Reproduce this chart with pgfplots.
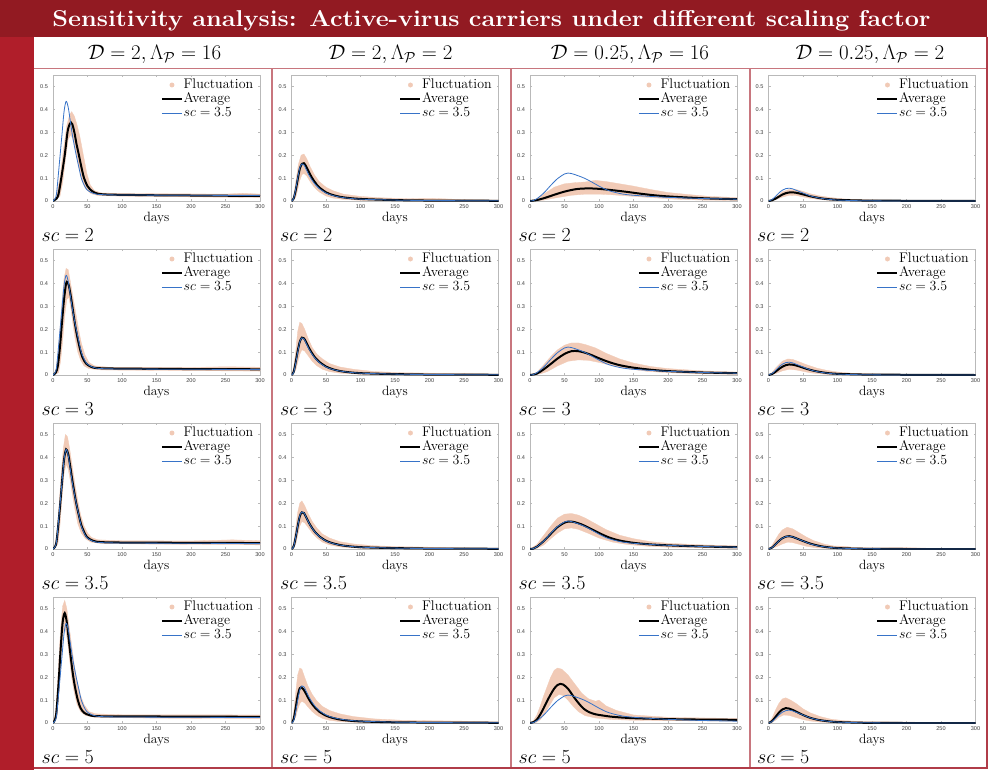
\RequirePackage{fix-cm}
\documentclass[border=0pt]{standalone}
\usepackage{fontspec}
\usepackage{pgfplots}
\pgfplotsset{compat=1.18}
\usepackage{pgfplotstable}
\newfontfamily\tickfont{Liberation Sans}
\definecolor{banner}{RGB}{146,26,34}
\definecolor{leftbar}{RGB}{176,30,42}
\definecolor{sep}{RGB}{200,118,126}
\definecolor{outer}{RGB}{176,60,72}
\definecolor{peach}{RGB}{241,202,182}
\definecolor{mblue}{RGB}{55,115,200}
\definecolor{axgray}{RGB}{185,185,185}
\newcommand{\T}[2]{\pgfplotstableread[row sep=\\]{x y\\#2}#1}
% ---------- column 1: D=2, Lambda=16 ----------
\T\blA{0 0\\3 0.01\\5 0.03\\7 0.09\\10 0.19\\13 0.29\\16 0.39\\19 0.435\\22 0.41\\25 0.35\\28 0.29\\31 0.24\\34 0.195\\38 0.14\\41 0.1\\45 0.07\\49 0.05\\55 0.038\\63 0.03\\80 0.027\\120 0.026\\200 0.025\\300 0.024\\}
\T\avAa{0 0\\5 0.01\\8 0.03\\12 0.1\\17 0.2\\21 0.3\\24 0.335\\26 0.343\\28 0.335\\31 0.3\\34 0.25\\37.6 0.2\\41 0.15\\45 0.1\\50 0.065\\54 0.05\\60 0.037\\66 0.031\\80 0.028\\100 0.027\\150 0.025\\200 0.024\\250 0.023\\300 0.022\\}
\T\bdAa{0 0\\5 0.02\\10 0.1\\15 0.22\\20 0.33\\24 0.375\\27 0.39\\31 0.37\\35 0.33\\39 0.28\\44 0.2\\49 0.12\\54 0.07\\60 0.045\\70 0.035\\100 0.033\\150 0.032\\200 0.031\\250 0.03\\275 0.034\\300 0.03\\300 0.015\\200 0.018\\100 0.021\\65 0.024\\55 0.032\\47 0.055\\42 0.09\\38 0.14\\34 0.2\\30 0.26\\26 0.29\\22 0.27\\18 0.18\\14 0.08\\10 0.02\\0 0\\}
\T\avAb{0 0\\4 0.01\\7 0.04\\10 0.12\\13 0.23\\16 0.33\\19 0.4\\21 0.405\\23 0.39\\26 0.34\\29 0.28\\32 0.22\\35 0.17\\39 0.115\\43 0.075\\48 0.05\\55 0.036\\65 0.03\\100 0.028\\200 0.026\\300 0.025\\}
\T\bdAb{0 0\\4 0.02\\7 0.08\\10 0.2\\13 0.32\\16 0.42\\19 0.465\\22 0.46\\25 0.41\\29 0.34\\33 0.27\\37 0.2\\41 0.14\\46 0.09\\52 0.055\\60 0.04\\80 0.034\\150 0.034\\200 0.033\\250 0.036\\300 0.034\\300 0.017\\150 0.02\\70 0.022\\52 0.028\\45 0.04\\40 0.065\\36 0.1\\32 0.16\\29 0.22\\26 0.29\\23 0.34\\20 0.33\\17 0.26\\14 0.15\\11 0.06\\8 0.01\\0 0\\}
\T\avAc{0 0\\3 0.01\\5 0.03\\7 0.085\\10 0.18\\13 0.29\\16 0.39\\19 0.435\\22 0.415\\25 0.36\\28 0.3\\31 0.245\\34 0.195\\38 0.14\\41 0.105\\45 0.075\\49 0.053\\55 0.04\\63 0.032\\80 0.029\\120 0.028\\200 0.027\\300 0.026\\}
\T\bdAc{0 0\\3 0.02\\6 0.08\\9 0.2\\12 0.33\\15 0.44\\18 0.5\\21 0.49\\24 0.44\\28 0.36\\32 0.28\\36 0.21\\40 0.15\\45 0.1\\50 0.07\\56 0.05\\65 0.04\\100 0.036\\200 0.035\\260 0.04\\300 0.036\\300 0.018\\150 0.021\\70 0.024\\55 0.03\\47 0.045\\41 0.07\\36 0.11\\32 0.17\\28 0.24\\25 0.3\\22 0.35\\19 0.37\\16 0.33\\13 0.22\\10 0.1\\7 0.02\\0 0\\}
\T\avAd{0 0\\3 0.015\\5 0.05\\8 0.17\\11 0.32\\14 0.44\\17 0.48\\20 0.44\\23 0.36\\26 0.28\\29 0.21\\32 0.155\\36 0.1\\40 0.065\\45 0.045\\52 0.035\\62 0.03\\100 0.029\\200 0.028\\300 0.027\\}
\T\bdAd{0 0\\3 0.03\\5 0.09\\8 0.25\\11 0.41\\14 0.51\\17 0.535\\20 0.5\\23 0.43\\27 0.34\\31 0.25\\35 0.18\\40 0.12\\45 0.08\\52 0.05\\62 0.04\\100 0.036\\200 0.036\\300 0.035\\300 0.019\\150 0.021\\60 0.025\\47 0.033\\40 0.05\\35 0.08\\31 0.13\\27 0.2\\24 0.28\\21 0.36\\18 0.41\\15 0.4\\12 0.29\\9 0.14\\6 0.03\\0 0\\}
% ---------- column 2: D=2, Lambda=2 ----------
\T\blB{0 0\\3 0.01\\6 0.05\\9 0.1\\12 0.145\\15 0.162\\18 0.158\\21 0.14\\25 0.115\\30 0.09\\35 0.07\\40 0.055\\50 0.035\\60 0.024\\75 0.015\\100 0.008\\150 0.004\\200 0.002\\300 0.001\\}
\T\avBa{0 0\\3 0.01\\6 0.045\\9 0.095\\12 0.14\\15 0.162\\18 0.165\\21 0.152\\25 0.128\\30 0.1\\35 0.078\\40 0.06\\50 0.038\\60 0.026\\75 0.016\\100 0.009\\150 0.004\\200 0.002\\300 0.001\\}
\T\bdBa{0 0\\3 0.02\\6 0.08\\10 0.16\\14 0.2\\18 0.205\\22 0.185\\27 0.15\\33 0.115\\40 0.085\\50 0.06\\60 0.045\\75 0.03\\100 0.02\\130 0.014\\170 0.01\\200 0.012\\250 0.006\\300 0.004\\300 0\\150 0.001\\100 0.003\\75 0.007\\60 0.013\\50 0.022\\40 0.04\\33 0.06\\27 0.085\\22 0.11\\18 0.12\\15 0.115\\12 0.09\\9 0.05\\6 0.015\\0 0\\}
\T\avBb{0 0\\3 0.012\\6 0.055\\9 0.105\\12 0.145\\15 0.163\\18 0.16\\21 0.145\\25 0.12\\30 0.094\\35 0.073\\40 0.058\\50 0.037\\60 0.025\\75 0.015\\100 0.008\\150 0.004\\200 0.002\\300 0.001\\}
\T\bdBb{0 0\\3 0.03\\6 0.1\\9 0.19\\12 0.23\\15 0.225\\19 0.2\\24 0.16\\30 0.12\\37 0.09\\45 0.07\\55 0.05\\70 0.035\\90 0.025\\120 0.015\\160 0.01\\200 0.008\\300 0.004\\300 0\\150 0.001\\100 0.003\\70 0.008\\55 0.015\\45 0.025\\37 0.04\\30 0.06\\24 0.085\\19 0.105\\15 0.11\\12 0.09\\9 0.055\\6 0.02\\0 0\\}
\T\avBc{0 0\\3 0.01\\6 0.05\\9 0.1\\12 0.143\\15 0.16\\18 0.157\\21 0.14\\25 0.116\\30 0.091\\35 0.071\\40 0.056\\50 0.036\\60 0.025\\75 0.015\\100 0.008\\150 0.004\\200 0.002\\300 0.001\\}
\T\bdBc{0 0\\3 0.025\\6 0.09\\9 0.16\\12 0.2\\15 0.21\\19 0.19\\24 0.155\\30 0.12\\37 0.09\\45 0.065\\55 0.048\\70 0.032\\90 0.022\\120 0.014\\160 0.01\\200 0.008\\250 0.005\\300 0.004\\300 0\\150 0.001\\100 0.003\\70 0.009\\55 0.018\\45 0.03\\37 0.048\\30 0.07\\24 0.095\\19 0.115\\15 0.12\\12 0.1\\9 0.06\\6 0.02\\0 0\\}
\T\avBd{0 0\\3 0.015\\6 0.065\\9 0.12\\12 0.152\\14 0.156\\17 0.148\\21 0.128\\25 0.105\\30 0.082\\35 0.064\\40 0.05\\50 0.032\\60 0.022\\75 0.013\\100 0.007\\150 0.003\\200 0.002\\300 0.001\\}
\T\bdBd{0 0\\3 0.04\\6 0.13\\9 0.21\\12 0.24\\15 0.235\\19 0.2\\24 0.16\\30 0.125\\37 0.095\\45 0.072\\55 0.055\\70 0.04\\90 0.028\\120 0.018\\160 0.012\\200 0.01\\250 0.008\\300 0.005\\300 0\\150 0.001\\100 0.002\\70 0.006\\55 0.012\\45 0.02\\37 0.033\\30 0.05\\24 0.07\\19 0.088\\15 0.095\\12 0.085\\9 0.06\\6 0.025\\0 0\\}
% ---------- column 3: D=0.25, Lambda=16 ----------
\T\blC{0 0\\5 0.002\\10 0.01\\20 0.035\\30 0.068\\40 0.098\\50 0.118\\55 0.122\\60 0.12\\70 0.11\\80 0.098\\90 0.082\\100 0.065\\110 0.05\\120 0.04\\135 0.03\\150 0.025\\175 0.02\\200 0.016\\250 0.011\\300 0.008\\}
\T\avCa{0 0\\10 0.004\\20 0.012\\30 0.022\\40 0.032\\50 0.041\\60 0.048\\70 0.053\\85 0.055\\100 0.053\\120 0.047\\140 0.04\\160 0.032\\180 0.025\\200 0.02\\230 0.015\\260 0.011\\300 0.008\\}
\T\bdCa{0 0\\10 0.01\\20 0.03\\35 0.06\\50 0.075\\65 0.08\\80 0.083\\95 0.09\\110 0.085\\130 0.075\\150 0.065\\175 0.05\\200 0.037\\230 0.028\\260 0.02\\300 0.015\\300 0.002\\250 0.004\\210 0.008\\180 0.014\\150 0.02\\120 0.027\\100 0.03\\80 0.03\\60 0.025\\40 0.015\\20 0.004\\0 0\\}
\T\avCb{0 0\\10 0.006\\20 0.025\\30 0.048\\40 0.072\\50 0.092\\60 0.104\\70 0.104\\80 0.097\\90 0.086\\100 0.073\\115 0.056\\130 0.043\\150 0.032\\175 0.023\\200 0.017\\250 0.011\\300 0.008\\}
\T\bdCb{0 0\\10 0.012\\20 0.045\\30 0.08\\40 0.11\\50 0.13\\60 0.14\\70 0.14\\80 0.133\\95 0.118\\110 0.095\\130 0.07\\150 0.052\\175 0.037\\200 0.028\\250 0.018\\300 0.013\\300 0.003\\250 0.005\\200 0.01\\170 0.016\\140 0.028\\120 0.04\\100 0.055\\85 0.064\\70 0.066\\55 0.06\\40 0.04\\25 0.015\\15 0.005\\0 0\\}
\T\avCc{0 0\\5 0.002\\10 0.01\\20 0.035\\30 0.066\\40 0.096\\50 0.115\\57 0.12\\65 0.117\\75 0.107\\85 0.093\\100 0.07\\115 0.05\\130 0.037\\150 0.027\\175 0.02\\200 0.016\\250 0.011\\300 0.008\\}
\T\bdCc{0 0\\10 0.02\\20 0.06\\30 0.1\\40 0.135\\50 0.152\\60 0.155\\70 0.148\\80 0.135\\95 0.11\\110 0.085\\130 0.06\\150 0.045\\175 0.032\\200 0.025\\250 0.018\\300 0.014\\300 0.003\\250 0.005\\200 0.008\\170 0.012\\140 0.02\\120 0.03\\100 0.048\\85 0.068\\70 0.086\\60 0.092\\50 0.088\\40 0.07\\30 0.045\\20 0.018\\10 0.003\\0 0\\}
\T\avCd{0 0\\5 0.004\\10 0.015\\15 0.038\\20 0.066\\25 0.097\\30 0.125\\35 0.15\\40 0.166\\44 0.171\\48 0.168\\55 0.15\\62 0.12\\70 0.088\\78 0.062\\86 0.047\\95 0.038\\105 0.033\\120 0.027\\150 0.021\\200 0.017\\250 0.015\\300 0.014\\}
\T\bdCd{0 0\\5 0.01\\10 0.035\\15 0.075\\20 0.12\\25 0.16\\30 0.2\\35 0.23\\40 0.24\\46 0.235\\55 0.21\\65 0.17\\75 0.13\\85 0.105\\95 0.095\\100 0.1\\110 0.075\\125 0.055\\150 0.035\\200 0.025\\250 0.022\\300 0.02\\300 0.008\\200 0.01\\150 0.012\\120 0.015\\95 0.022\\80 0.032\\70 0.05\\62 0.075\\55 0.1\\48 0.12\\42 0.125\\35 0.11\\30 0.085\\25 0.06\\20 0.035\\15 0.015\\10 0.004\\0 0\\}
% ---------- column 4: D=0.25, Lambda=2 ----------
\T\blD{0 0\\5 0.006\\10 0.02\\15 0.035\\20 0.047\\25 0.054\\30 0.056\\35 0.053\\40 0.047\\50 0.035\\60 0.023\\70 0.015\\80 0.01\\95 0.005\\110 0.003\\140 0.001\\200 0\\300 0\\}
\T\avDa{0 0\\5 0.003\\10 0.01\\15 0.019\\20 0.028\\25 0.034\\32 0.038\\40 0.036\\50 0.029\\60 0.021\\70 0.015\\80 0.01\\95 0.006\\110 0.004\\140 0.002\\200 0.001\\300 0\\}
\T\bdDa{0 0\\10 0.015\\20 0.04\\30 0.05\\40 0.05\\50 0.042\\60 0.032\\75 0.022\\90 0.015\\110 0.009\\140 0.005\\200 0.003\\300 0.001\\300 0\\120 0.001\\90 0.003\\75 0.006\\60 0.012\\50 0.018\\40 0.024\\30 0.025\\20 0.017\\10 0.005\\0 0\\}
\T\avDb{0 0\\5 0.004\\10 0.014\\15 0.026\\20 0.036\\25 0.043\\30 0.046\\37 0.044\\45 0.037\\55 0.027\\65 0.019\\75 0.013\\90 0.007\\110 0.004\\140 0.002\\200 0.001\\300 0\\}
\T\bdDb{0 0\\5 0.01\\10 0.03\\20 0.06\\28 0.07\\35 0.068\\45 0.057\\55 0.045\\70 0.03\\85 0.02\\100 0.013\\120 0.008\\150 0.005\\200 0.003\\300 0.002\\300 0\\120 0.001\\90 0.002\\75 0.005\\60 0.01\\50 0.016\\40 0.022\\30 0.025\\20 0.018\\10 0.006\\0 0\\}
\T\avDc{0 0\\5 0.006\\10 0.02\\15 0.035\\20 0.047\\25 0.054\\30 0.056\\35 0.053\\40 0.047\\50 0.035\\60 0.024\\70 0.016\\80 0.01\\95 0.005\\110 0.003\\140 0.001\\200 0\\300 0\\}
\T\bdDc{0 0\\5 0.015\\10 0.04\\15 0.065\\20 0.083\\27 0.095\\35 0.088\\45 0.07\\55 0.052\\65 0.037\\80 0.022\\95 0.013\\110 0.012\\120 0.008\\150 0.005\\200 0.006\\250 0.002\\300 0.001\\300 0\\120 0.001\\90 0.002\\70 0.005\\55 0.012\\45 0.02\\35 0.028\\28 0.03\\20 0.022\\10 0.008\\0 0\\}
\T\avDd{0 0\\5 0.008\\10 0.026\\15 0.045\\20 0.059\\25 0.065\\30 0.063\\35 0.057\\40 0.05\\50 0.035\\60 0.023\\70 0.015\\80 0.01\\95 0.005\\110 0.003\\140 0.001\\200 0\\300 0\\}
\T\bdDd{0 0\\5 0.02\\10 0.055\\15 0.085\\20 0.105\\25 0.11\\32 0.1\\40 0.085\\50 0.062\\60 0.045\\75 0.028\\90 0.017\\110 0.01\\140 0.006\\200 0.004\\300 0.002\\300 0\\120 0.001\\90 0.002\\75 0.004\\60 0.009\\50 0.015\\40 0.024\\30 0.033\\22 0.035\\15 0.025\\10 0.012\\5 0.003\\0 0\\}

\pgfplotsset{panel/.style={
  scale only axis, width=207bp, height=126bp, anchor=north west,
  xmin=0, xmax=300, ymin=0, ymax=0.55,
  xtick={0,50,100,150,200,250,300}, ytick={0,0.1,0.2,0.3,0.4,0.5},
  xticklabels={0,50,100,150,200,250,300}, yticklabels={0,0.1,0.2,0.3,0.4,0.5},
  tick align=inside, major tick length=2bp, minor tick num=0,
  axis line style={draw=axgray, line width=0.5bp},
  tick style={draw=axgray, line width=0.5bp},
  ticklabel style={font=\fontsize{5.6}{6}\tickfont, text=black!75},
  yticklabel style={xshift=-1.5bp},
  xlabel={days}, xlabel style={font=\fontsize{13.5}{14}\selectfont, yshift=3.5bp},
  legend cell align=left,
  legend image code/.code={\draw[##1] (0bp,0bp) -- (20bp,0bp);},
  legend style={draw=none, fill=none, at={(1,1)}, anchor=north east,
    xshift=-6bp, yshift=-3bp, font=\fontsize{14}{15}\selectfont,
    inner sep=0pt, row sep=0.4bp,
    nodes={inner sep=0.6bp, text height=9.6bp, text depth=2.8bp}},
}}

\newcommand{\panel}[5]{%
\begin{axis}[panel, at={(#1bp,-#2bp)}]
\addplot[fill=peach, draw=peach, line width=0.3bp, forget plot] table {#3} -- cycle;
\addlegendimage{legend image code/.code={\fill[peach] (10bp,0bp) circle (2.2bp);}}
\addlegendentry{Fluctuation}
\addplot[black, line width=2bp, smooth, tension=0.5] table {#4};
\addlegendentry{Average}
\addplot[mblue, line width=0.8bp, smooth, tension=0.5] table {#5};
\addlegendentry{$sc=3.5$}
\end{axis}}

\newcommand{\rowlab}[3]{\node[anchor=base west, inner sep=0pt, font=\fontsize{20}{22}\selectfont] at (#1bp,-#2bp) {$sc=#3$};}
\newcommand{\colhead}[2]{\node[anchor=base, inner sep=0pt, font=\fontsize{21}{23}\selectfont] at (#1bp,-59bp) {#2};}

\begin{document}
\begin{tikzpicture}
\useasboundingbox (0,0) rectangle (1008bp,-772bp);
\fill[white] (0,0) rectangle (1008bp,-772bp);
% frame
\fill[banner] (0,0) rectangle (987bp,-36.5bp);
\fill[leftbar] (0,-36.5bp) rectangle (33.5bp,-770bp);
\draw[sep, line width=1bp] (33.5bp,-68bp) -- (987bp,-68bp);
\foreach \xx in {272,511,750} \draw[sep, line width=1.6bp] (\xx bp,-68bp) -- (\xx bp,-768bp);
\draw[outer, line width=1.2bp] (987bp,-36.5bp) -- (987bp,-768bp) -- (33.5bp,-768bp);
% title
\node[text=white, anchor=base, inner sep=0pt, font=\fontsize{23}{26}\selectfont\bfseries] at (491.5bp,-26bp) {\scalebox{1.1}[1]{Sensitivity analysis: Active-virus carriers under different scaling factor}};
% column headers
\colhead{154.5}{$\mathcal{D}=2, \Lambda_{\mathcal{P}}=16$}
\colhead{390.5}{$\mathcal{D}=2, \Lambda_{\mathcal{P}}=2$}
\colhead{630}{$\mathcal{D}=0.25, \Lambda_{\mathcal{P}}=16$}
\colhead{870}{$\mathcal{D}=0.25, \Lambda_{\mathcal{P}}=2$}
% panels
\panel{53}{75}{\bdAa}{\avAa}{\blA}
\panel{53}{249}{\bdAb}{\avAb}{\blA}
\panel{53}{423}{\bdAc}{\avAc}{\blA}
\panel{53}{597}{\bdAd}{\avAd}{\blA}
\panel{291.5}{75}{\bdBa}{\avBa}{\blB}
\panel{291.5}{249}{\bdBb}{\avBb}{\blB}
\panel{291.5}{423}{\bdBc}{\avBc}{\blB}
\panel{291.5}{597}{\bdBd}{\avBd}{\blB}
\panel{530}{75}{\bdCa}{\avCa}{\blC}
\panel{530}{249}{\bdCb}{\avCb}{\blC}
\panel{530}{423}{\bdCc}{\avCc}{\blC}
\panel{530}{597}{\bdCd}{\avCd}{\blC}
\panel{768.5}{75}{\bdDa}{\avDa}{\blD}
\panel{768.5}{249}{\bdDb}{\avDb}{\blD}
\panel{768.5}{423}{\bdDc}{\avDc}{\blD}
\panel{768.5}{597}{\bdDd}{\avDd}{\blD}
% row labels
\foreach \xx in {41.5,280,518.5,757} {
  \rowlab{\xx}{241.5}{2}
  \rowlab{\xx}{415.5}{3}
  \rowlab{\xx}{589.5}{3.5}
  \rowlab{\xx}{763.5}{5}
}
\end{tikzpicture}
\end{document}
